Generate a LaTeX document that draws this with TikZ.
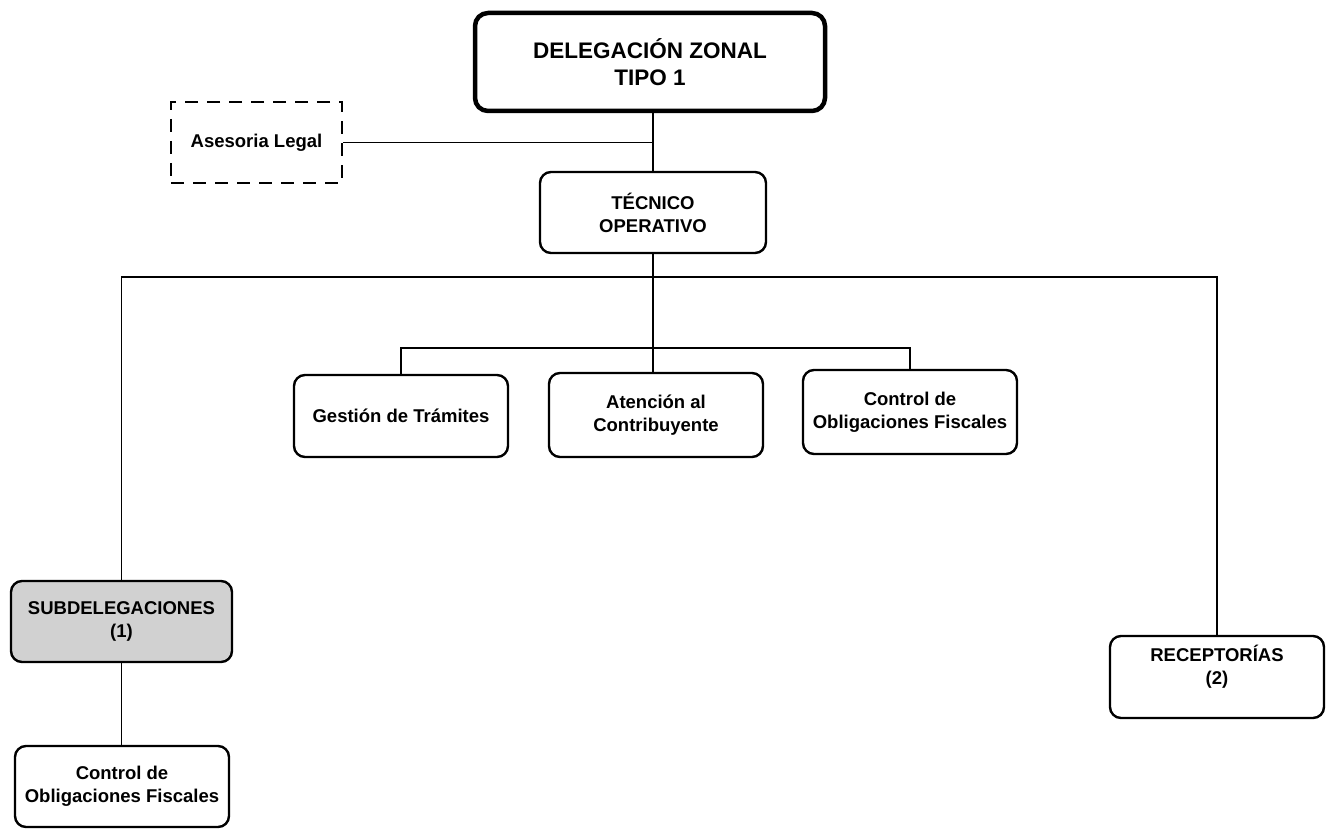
\documentclass[tikz,border=0pt]{standalone}
\usepackage{fontspec}
\setmainfont{Liberation Sans}
\begin{document}
\begin{tikzpicture}[x=1pt,y=-1pt,
  box/.style={draw=black, line width=2.4pt, rounded corners=11pt, align=center,
    inner sep=0pt, font=\bfseries\fontsize{18.5}{23}\selectfont, fill=white},
  topbox/.style={box, line width=4.5pt, rounded corners=13pt, font=\bfseries\fontsize{22.5}{27}\selectfont},
  dashbox/.style={draw=black, line width=2.6pt, dash pattern=on 13pt off 9pt, align=center,
    inner sep=0pt, font=\bfseries\fontsize{18.5}{23}\selectfont},
  conn/.style={draw=black, line width=1.1pt}
]
\useasboundingbox (0,0) rectangle (1327,829);

\node[topbox, minimum width=350pt, minimum height=98pt] (top) at (650,62) {DELEGACIÓN ZONAL\\TIPO 1};
\node[dashbox, minimum width=171pt, minimum height=81pt] (ase) at (256.5,142.5) {Asesoria Legal};
\node[box, minimum width=226pt, minimum height=81pt] (tec) at (653,212.5) {TÉCNICO\\OPERATIVO};

\node[box, minimum width=214pt, minimum height=82pt] (ges) at (401,416) {Gestión de Trámites};
\node[box, minimum width=214pt, minimum height=84pt] (ate) at (656,415) {Atención al\\Contribuyente};
\node[box, minimum width=214pt, minimum height=84pt] (cof) at (910,412) {Control de\\Obligaciones Fiscales};

\node[box, fill=black!18, minimum width=221pt, minimum height=81pt] (sub) at (121.5,621.5) {SUBDELEGACIONES\\(1)};
\node[box, minimum width=214pt, minimum height=81pt] (cos) at (122,786.5) {Control de\\Obligaciones Fiscales};
\node[box, minimum width=214pt, minimum height=82pt, text depth=24pt] (rec) at (1217,677) {RECEPTORÍAS\\(2)};

\coordinate (bus) at (0,277);
\coordinate (sbus) at (0,348);

\draw[conn] (top.south -| tec.north) -- (tec.north);
\draw[conn] (ase.east) -- (ase.east -| tec.north);
\draw[conn] (tec.south) -- (tec.south |- ate.north);
\draw[conn] (sub.north) -- (sub.north |- bus) -- (rec.north |- bus) -- (rec.north);
\draw[conn] (ges.north) -- (ges.north |- sbus) -- (cof.north |- sbus) -- (cof.north);
\draw[conn] (sub.south) -- (sub.south |- cos.north);
\end{tikzpicture}
\end{document}
